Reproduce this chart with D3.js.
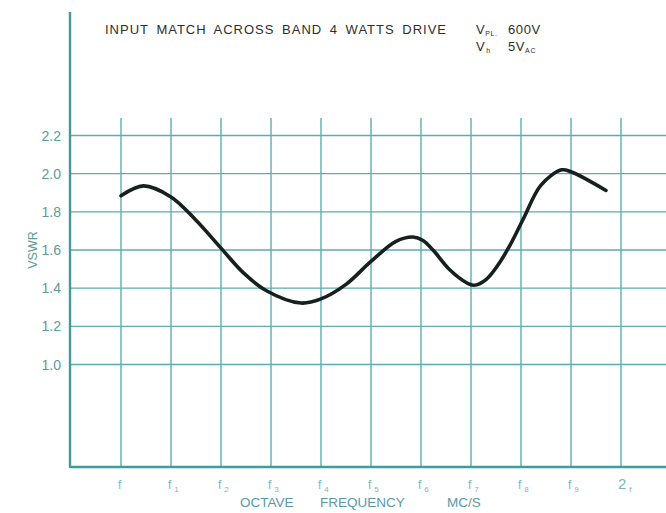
<!DOCTYPE html>
<html><head><meta charset="utf-8">
<script src="https://cdn.jsdelivr.net/npm/d3@7"></script>
<style>body{margin:0;background:#fff;}svg{display:block;font-family:"Liberation Sans",Arial,sans-serif;}</style>
</head><body><div id="chart"></div>
<script>
const yTicks = [1.0, 1.2, 1.4, 1.6, 1.8, 2.0, 2.2];
const xCategories = ["f","f1","f2","f3","f4","f5","f6","f7","f8","f9","2f"];
const xLabelMain = ["f","f","f","f","f","f","f","f","f","f","2"];
const xLabelSub  = ["","1","2","3","4","5","6","7","8","9","f"];
// curve samples: position in octave steps (0 = f, 10 = 2f) and VSWR
const curveX = [0,0.45,1.0,1.5,2.0,2.45,2.9,3.6,4.0,4.5,5.0,5.5,5.84,6.04,6.24,6.58,6.92,7.06,7.3,7.55,7.8,8.05,8.4,8.81,9.0,9.7];
const curveY = [1.884,1.936,1.878,1.756,1.61,1.48,1.388,1.322,1.344,1.42,1.54,1.645,1.668,1.650,1.60,1.495,1.427,1.415,1.445,1.525,1.635,1.765,1.94,2.02,2.01,1.912];

const W=666,H=513;
const svg=d3.select("#chart").append("svg").attr("width",W).attr("height",H);
const grid="#5eadae", axisC="#3f9c9c", lab="#5c9c98", labX="#7ab6bf";
const x=d3.scaleLinear().domain([0,10]).range([121,621]);
const y=d3.scaleLinear().domain([1.0,2.2]).range([364.5,135.5]);
const left=70, bottom=467;

// horizontal gridlines
svg.append("g").selectAll("line").data(yTicks).join("line")
  .attr("x1",left).attr("x2",W).attr("y1",d=>y(d)).attr("y2",d=>y(d))
  .attr("stroke",grid).attr("stroke-width",1.4);
// vertical gridlines
svg.append("g").selectAll("line").data(d3.range(xCategories.length)).join("line")
  .attr("x1",d=>x(d)).attr("x2",d=>x(d)).attr("y1",118).attr("y2",bottom)
  .attr("stroke",grid).attr("stroke-width",1.4);
// axes
svg.append("line").attr("x1",left).attr("x2",left).attr("y1",12).attr("y2",bottom+1)
  .attr("stroke",axisC).attr("stroke-width",2.4);
svg.append("line").attr("x1",left).attr("x2",W).attr("y1",bottom).attr("y2",bottom)
  .attr("stroke",axisC).attr("stroke-width",2.6);

// y labels
svg.append("g").selectAll("text").data(yTicks).join("text")
  .attr("x",61).attr("y",d=>y(d)+5).attr("text-anchor","end")
  .attr("font-size",14).attr("fill",lab).text(d=>d.toFixed(1));
svg.append("text").attr("transform","translate(37,250) rotate(-90)")
  .attr("text-anchor","middle").attr("font-size",12.5).attr("fill",lab).text("VSWR");

// x labels
const xl=svg.append("g").selectAll("text").data(d3.range(xCategories.length)).join("text")
  .attr("x",d=>x(d)-3).attr("y",489).attr("font-size",12).attr("fill",labX);
xl.append("tspan").attr("font-size",(d)=>d===10?15:12).text(d=>xLabelMain[d]);
xl.append("tspan").attr("font-size",8).attr("dx",3).attr("dy",3).text(d=>xLabelSub[d]);

svg.append("text").attr("y",507).attr("font-size",13.5).attr("fill","#5a98a8")
  .selectAll("tspan").data([["OCTAVE",240],["FREQUENCY",320],["MC/S",447]]).join("tspan")
  .attr("x",d=>d[1]).text(d=>d[0]);

// title
svg.append("text").attr("x",105).attr("y",34).attr("font-size",13).attr("fill","#2e2e2e")
  .attr("letter-spacing",1).attr("word-spacing",3)
  .text("INPUT MATCH ACROSS BAND 4 WATTS DRIVE");
const t1=svg.append("text").attr("x",476).attr("y",34).attr("font-size",13).attr("fill","#2e2e2e").attr("letter-spacing",0.6);
t1.append("tspan").text("V");
t1.append("tspan").attr("font-size",7).attr("dx",0).attr("dy",2).text("PL.");
t1.append("tspan").attr("x",508).attr("dy",-2).text("600V");
const t2=svg.append("text").attr("x",476).attr("y",51).attr("font-size",13).attr("fill","#2e2e2e").attr("letter-spacing",0.6);
t2.append("tspan").text("V");
t2.append("tspan").attr("font-size",7).attr("dx",1).attr("dy",2).text("h");
t2.append("tspan").attr("x",508).attr("dy",-2).text("5V");
t2.append("tspan").attr("font-size",7).attr("dy",2).text("AC");

// curve
const pts=curveX.map((v,i)=>[v,curveY[i]]);
svg.append("path").datum(pts)
  .attr("d",d3.line().x(d=>x(d[0])).y(d=>y(d[1])).curve(d3.curveCatmullRom.alpha(0.5)))
  .attr("fill","none").attr("stroke","#16201f").attr("stroke-width",3.6).attr("stroke-linecap","round");
</script></body></html>
